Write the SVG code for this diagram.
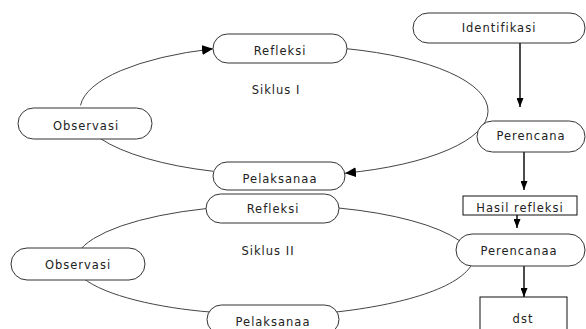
<svg xmlns="http://www.w3.org/2000/svg" width="586" height="329" viewBox="0 0 586 329">
<style>
.node{fill:#fff;stroke:#333;stroke-width:1}
.box{fill:#fff;stroke:#111;stroke-width:1}
.lbl{font-family:"DejaVu Sans",sans-serif;font-size:11.5px;letter-spacing:1px;fill:#222;text-anchor:middle}
.cyc{fill:none;stroke:#444;stroke-width:1}
.flow{fill:none;stroke:#111;stroke-width:1.5}
</style>
<defs>
<marker id="big" viewBox="0 0 11 10" refX="11" refY="5" markerWidth="11" markerHeight="10" markerUnits="userSpaceOnUse" orient="auto"><path d="M0,0 L11,5 L0,10 z" fill="#000"/></marker>
<marker id="sm" viewBox="0 0 9 7" refX="9" refY="3.5" markerWidth="9" markerHeight="7" markerUnits="userSpaceOnUse" orient="auto"><path d="M0,0 L9,3.5 L0,7 z" fill="#000"/></marker>
</defs>
<rect width="586" height="329" fill="#fff"/>
<g id="connectors">
<path class="cyc" d="M80.5,105.4 A200,65 0 0 1 213,48.75" marker-end="url(#big)"/>
<path class="cyc" d="M347,48.75 A200,65 0 0 1 345,173.17" marker-end="url(#big)"/>
<path class="cyc" d="M213,171.25 A200,65 0 0 1 100,138.3"/>
<path class="cyc" d="M78,253 A200,58 0 0 1 206,208.6"/>
<path class="cyc" d="M339,208.05 A200,58 0 0 1 460,241"/>
<path class="cyc" d="M473,262 C462,288 400,305 336,312"/>
<path class="cyc" d="M210,312 C160,308 105,296 83,278"/>
<path class="flow" d="M520,43 L520,107" marker-end="url(#sm)"/>
<path class="flow" d="M524,152 L524,190" marker-end="url(#sm)"/>
<path class="flow" d="M517,215 L517,228" marker-end="url(#sm)"/>
<path class="flow" d="M524,266 L524,297" marker-end="url(#sm)"/>
</g>
<g id="refleksi1"><rect class="node" x="213" y="34" width="134" height="29" rx="14.5"/><text class="lbl" x="280" y="54.5">Refleksi</text></g>
<g id="siklus1"><text class="lbl" x="276" y="94">Siklus I</text></g>
<g id="observasi1"><rect class="node" x="18" y="108" width="134" height="31" rx="15.5"/><text class="lbl" x="86" y="129.5">Observasi</text></g>
<g id="pelaksanaa1"><rect class="node" x="213" y="162" width="132" height="28" rx="14"/><text class="lbl" x="280" y="182.5">Pelaksanaa</text></g>
<g id="refleksi2"><rect class="node" x="206" y="194" width="133" height="29" rx="14.5"/><text class="lbl" x="273" y="213">Refleksi</text></g>
<g id="siklus2"><text class="lbl" x="268" y="255">Siklus II</text></g>
<g id="observasi2"><rect class="node" x="11" y="248" width="134" height="32" rx="16"/><text class="lbl" x="78" y="269">Observasi</text></g>
<g id="pelaksanaa2"><rect class="node" x="207" y="305" width="132" height="29" rx="14.5"/><text class="lbl" x="273" y="326">Pelaksanaa</text></g>
<g id="identifikasi"><rect class="node" x="413" y="13" width="172" height="30" rx="15"/><text class="lbl" x="499" y="32">Identifikasi</text></g>
<g id="perencana"><rect class="node" x="477" y="121" width="108" height="31" rx="15.5"/><text class="lbl" x="531" y="140">Perencana</text></g>
<g id="hasil"><rect class="box" x="463" y="196" width="114" height="19"/><text class="lbl" x="520" y="211.5">Hasil refleksi</text></g>
<g id="perencanaa"><rect class="node" x="456" y="234" width="129" height="32" rx="16"/><text class="lbl" x="519" y="255">Perencanaa</text></g>
<g id="dst"><rect class="box" x="480" y="297" width="87" height="40"/><text class="lbl" x="523" y="323">dst</text></g>
</svg>
